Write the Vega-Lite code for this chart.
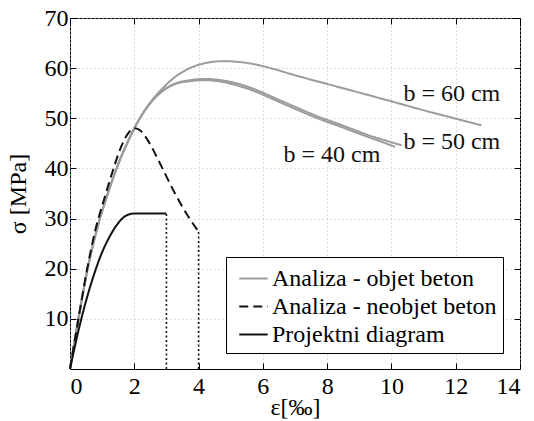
{
  "$schema": "https://vega.github.io/schema/vega-lite/v6.json",
  "width": 450,
  "height": 351,
  "autosize": {"type": "none"},
  "padding": {"left": 70, "top": 18, "right": 14, "bottom": 52},
  "background": "white",
  "config": {
    "font": "Liberation Serif",
    "view": {"stroke": "#000", "strokeWidth": 1},
    "axis": {
      "labelFont": "Liberation Serif",
      "titleFont": "Liberation Serif",
      "labelFontSize": 24,
      "titleFontSize": 24,
      "titleFontWeight": "normal",
      "labelColor": "#000",
      "titleColor": "#000",
      "domain": false,
      "tickColor": "#000",
      "gridColor": "#bdbdbd",
      "gridDash": [1, 3],
      "gridWidth": 1,
      "tickSize": -6,
      "labelPadding": 8
    },
    "legend": {
      "orient": "none",
      "legendX": 156,
      "legendY": 239,
      "direction": "vertical",
      "strokeColor": "#000",
      "fillColor": "#fff",
      "padding": 6,
      "symbolType": "stroke",
      "symbolSize": 810,
      "symbolStrokeWidth": 2,
      "symbolOffset": 6,
      "labelFont": "Liberation Serif",
      "labelFontSize": 24,
      "labelColor": "#000",
      "labelOffset": 3,
      "labelLimit": 400,
      "rowPadding": 0
    }
  },
  "datasets": {
    "curves": [
      {"s": "Analiza - objet beton", "c": "b60", "x": 0, "y": 0},
      {"s": "Analiza - objet beton", "c": "b60", "x": 0.26, "y": 10},
      {"s": "Analiza - objet beton", "c": "b60", "x": 0.55, "y": 20},
      {"s": "Analiza - objet beton", "c": "b60", "x": 0.93, "y": 30},
      {"s": "Analiza - objet beton", "c": "b60", "x": 1.1, "y": 33.5},
      {"s": "Analiza - objet beton", "c": "b60", "x": 1.27, "y": 36.8},
      {"s": "Analiza - objet beton", "c": "b60", "x": 1.45, "y": 40.0},
      {"s": "Analiza - objet beton", "c": "b60", "x": 1.63, "y": 42.9},
      {"s": "Analiza - objet beton", "c": "b60", "x": 1.82, "y": 45.6},
      {"s": "Analiza - objet beton", "c": "b60", "x": 2.0, "y": 48.0},
      {"s": "Analiza - objet beton", "c": "b60", "x": 2.25, "y": 50.8},
      {"s": "Analiza - objet beton", "c": "b60", "x": 2.54, "y": 53.5},
      {"s": "Analiza - objet beton", "c": "b60", "x": 2.9, "y": 56.1},
      {"s": "Analiza - objet beton", "c": "b60", "x": 3.26, "y": 58.2},
      {"s": "Analiza - objet beton", "c": "b60", "x": 3.73, "y": 60.0},
      {"s": "Analiza - objet beton", "c": "b60", "x": 4.2, "y": 61.0},
      {"s": "Analiza - objet beton", "c": "b60", "x": 4.8, "y": 61.4},
      {"s": "Analiza - objet beton", "c": "b60", "x": 5.3, "y": 61.2},
      {"s": "Analiza - objet beton", "c": "b60", "x": 5.8, "y": 60.7},
      {"s": "Analiza - objet beton", "c": "b60", "x": 6.3, "y": 59.9},
      {"s": "Analiza - objet beton", "c": "b60", "x": 6.83, "y": 58.9},
      {"s": "Analiza - objet beton", "c": "b60", "x": 7.5, "y": 57.7},
      {"s": "Analiza - objet beton", "c": "b60", "x": 8.2, "y": 56.5},
      {"s": "Analiza - objet beton", "c": "b60", "x": 9.3, "y": 54.6},
      {"s": "Analiza - objet beton", "c": "b60", "x": 10.1, "y": 53.2},
      {"s": "Analiza - objet beton", "c": "b60", "x": 11.0, "y": 51.6},
      {"s": "Analiza - objet beton", "c": "b60", "x": 11.9, "y": 50.1},
      {"s": "Analiza - objet beton", "c": "b60", "x": 12.8, "y": 48.6},

      {"s": "Analiza - objet beton", "c": "b50", "x": 0, "y": 0},
      {"s": "Analiza - objet beton", "c": "b50", "x": 0.26, "y": 10},
      {"s": "Analiza - objet beton", "c": "b50", "x": 0.55, "y": 20},
      {"s": "Analiza - objet beton", "c": "b50", "x": 0.93, "y": 30},
      {"s": "Analiza - objet beton", "c": "b50", "x": 1.1, "y": 33.5},
      {"s": "Analiza - objet beton", "c": "b50", "x": 1.27, "y": 36.8},
      {"s": "Analiza - objet beton", "c": "b50", "x": 1.45, "y": 40.0},
      {"s": "Analiza - objet beton", "c": "b50", "x": 1.63, "y": 42.9},
      {"s": "Analiza - objet beton", "c": "b50", "x": 1.82, "y": 45.6},
      {"s": "Analiza - objet beton", "c": "b50", "x": 2.0, "y": 48.0},
      {"s": "Analiza - objet beton", "c": "b50", "x": 2.25, "y": 50.8},
      {"s": "Analiza - objet beton", "c": "b50", "x": 2.54, "y": 53.4},
      {"s": "Analiza - objet beton", "c": "b50", "x": 2.9, "y": 55.6},
      {"s": "Analiza - objet beton", "c": "b50", "x": 3.26, "y": 56.9},
      {"s": "Analiza - objet beton", "c": "b50", "x": 3.73, "y": 57.6},
      {"s": "Analiza - objet beton", "c": "b50", "x": 4.2, "y": 57.85},
      {"s": "Analiza - objet beton", "c": "b50", "x": 4.7, "y": 57.6},
      {"s": "Analiza - objet beton", "c": "b50", "x": 5.28, "y": 56.8},
      {"s": "Analiza - objet beton", "c": "b50", "x": 5.7, "y": 55.9},
      {"s": "Analiza - objet beton", "c": "b50", "x": 6.11, "y": 54.8},
      {"s": "Analiza - objet beton", "c": "b50", "x": 6.6, "y": 53.4},
      {"s": "Analiza - objet beton", "c": "b50", "x": 7.14, "y": 51.9},
      {"s": "Analiza - objet beton", "c": "b50", "x": 7.7, "y": 50.4},
      {"s": "Analiza - objet beton", "c": "b50", "x": 8.3, "y": 49.0},
      {"s": "Analiza - objet beton", "c": "b50", "x": 8.8, "y": 47.8},
      {"s": "Analiza - objet beton", "c": "b50", "x": 9.3, "y": 46.6},
      {"s": "Analiza - objet beton", "c": "b50", "x": 9.8, "y": 45.6},
      {"s": "Analiza - objet beton", "c": "b50", "x": 10.32, "y": 44.6},

      {"s": "Analiza - objet beton", "c": "b40", "x": 0, "y": 0},
      {"s": "Analiza - objet beton", "c": "b40", "x": 0.26, "y": 10},
      {"s": "Analiza - objet beton", "c": "b40", "x": 0.55, "y": 20},
      {"s": "Analiza - objet beton", "c": "b40", "x": 0.93, "y": 30},
      {"s": "Analiza - objet beton", "c": "b40", "x": 1.1, "y": 33.5},
      {"s": "Analiza - objet beton", "c": "b40", "x": 1.27, "y": 36.8},
      {"s": "Analiza - objet beton", "c": "b40", "x": 1.45, "y": 40.0},
      {"s": "Analiza - objet beton", "c": "b40", "x": 1.63, "y": 42.9},
      {"s": "Analiza - objet beton", "c": "b40", "x": 1.82, "y": 45.6},
      {"s": "Analiza - objet beton", "c": "b40", "x": 2.0, "y": 48.0},
      {"s": "Analiza - objet beton", "c": "b40", "x": 2.25, "y": 50.8},
      {"s": "Analiza - objet beton", "c": "b40", "x": 2.54, "y": 53.3},
      {"s": "Analiza - objet beton", "c": "b40", "x": 2.9, "y": 55.5},
      {"s": "Analiza - objet beton", "c": "b40", "x": 3.26, "y": 56.8},
      {"s": "Analiza - objet beton", "c": "b40", "x": 3.73, "y": 57.4},
      {"s": "Analiza - objet beton", "c": "b40", "x": 4.2, "y": 57.6},
      {"s": "Analiza - objet beton", "c": "b40", "x": 4.7, "y": 57.3},
      {"s": "Analiza - objet beton", "c": "b40", "x": 5.28, "y": 56.4},
      {"s": "Analiza - objet beton", "c": "b40", "x": 5.7, "y": 55.5},
      {"s": "Analiza - objet beton", "c": "b40", "x": 6.11, "y": 54.4},
      {"s": "Analiza - objet beton", "c": "b40", "x": 6.6, "y": 53.0},
      {"s": "Analiza - objet beton", "c": "b40", "x": 7.14, "y": 51.5},
      {"s": "Analiza - objet beton", "c": "b40", "x": 7.7, "y": 50.0},
      {"s": "Analiza - objet beton", "c": "b40", "x": 8.3, "y": 48.6},
      {"s": "Analiza - objet beton", "c": "b40", "x": 8.8, "y": 47.4},
      {"s": "Analiza - objet beton", "c": "b40", "x": 9.3, "y": 46.2},
      {"s": "Analiza - objet beton", "c": "b40", "x": 9.7, "y": 45.3},
      {"s": "Analiza - objet beton", "c": "b40", "x": 10.11, "y": 44.3},

      {"s": "Analiza - neobjet beton", "c": "neo", "x": 0, "y": 0},
      {"s": "Analiza - neobjet beton", "c": "neo", "x": 0.25, "y": 9.5},
      {"s": "Analiza - neobjet beton", "c": "neo", "x": 0.52, "y": 19.5},
      {"s": "Analiza - neobjet beton", "c": "neo", "x": 0.8, "y": 28.0},
      {"s": "Analiza - neobjet beton", "c": "neo", "x": 1.06, "y": 33.8},
      {"s": "Analiza - neobjet beton", "c": "neo", "x": 1.32, "y": 39.3},
      {"s": "Analiza - neobjet beton", "c": "neo", "x": 1.63, "y": 44.9},
      {"s": "Analiza - neobjet beton", "c": "neo", "x": 1.82, "y": 47.1},
      {"s": "Analiza - neobjet beton", "c": "neo", "x": 2.0, "y": 48.0},
      {"s": "Analiza - neobjet beton", "c": "neo", "x": 2.2, "y": 47.5},
      {"s": "Analiza - neobjet beton", "c": "neo", "x": 2.42, "y": 45.6},
      {"s": "Analiza - neobjet beton", "c": "neo", "x": 2.83, "y": 40.6},
      {"s": "Analiza - neobjet beton", "c": "neo", "x": 3.25, "y": 35.2},
      {"s": "Analiza - neobjet beton", "c": "neo", "x": 3.72, "y": 30.0},
      {"s": "Analiza - neobjet beton", "c": "neo", "x": 4.0, "y": 27.4},

      {"s": "Projektni diagram", "c": "pd", "x": 0, "y": 0},
      {"s": "Projektni diagram", "c": "pd", "x": 0.25, "y": 7.3},
      {"s": "Projektni diagram", "c": "pd", "x": 0.5, "y": 13.6},
      {"s": "Projektni diagram", "c": "pd", "x": 0.75, "y": 18.9},
      {"s": "Projektni diagram", "c": "pd", "x": 1.0, "y": 23.3},
      {"s": "Projektni diagram", "c": "pd", "x": 1.25, "y": 26.6},
      {"s": "Projektni diagram", "c": "pd", "x": 1.5, "y": 29.1},
      {"s": "Projektni diagram", "c": "pd", "x": 1.75, "y": 30.6},
      {"s": "Projektni diagram", "c": "pd", "x": 2.0, "y": 31.0},
      {"s": "Projektni diagram", "c": "pd", "x": 3.0, "y": 31.0}
    ],
    "drops": [
      {"x": 3.0, "y": 0, "y2": 31.0},
      {"x": 4.0, "y": 0, "y2": 27.4}
    ],
    "labels": [
      {"t": "b = 60 cm", "x": 11.88, "y": 54.8},
      {"t": "b = 50 cm", "x": 11.88, "y": 45.2},
      {"t": "b = 40 cm", "x": 8.15, "y": 42.6}
    ]
  },
  "resolve": {"axis": {"x": "independent", "y": "independent"}},
  "layer": [
    {
      "data": {"name": "curves"},
      "mark": {"type": "line", "strokeWidth": 2, "interpolate": "monotone"},
      "encoding": {
        "x": {
          "field": "x", "type": "quantitative",
          "scale": {"domain": [0, 14], "nice": false, "zero": false},
          "axis": {"orient": "bottom", "values": [0, 2, 4, 6, 8, 10, 12, 14], "title": "ε[‰]", "labelPadding": 11, "titlePadding": -3, "grid": true}
        },
        "y": {
          "field": "y", "type": "quantitative",
          "scale": {"domain": [0, 70], "nice": false, "zero": false},
          "axis": {"orient": "left", "values": [10, 20, 30, 40, 50, 60, 70], "title": "σ [MPa]", "titlePadding": 14, "grid": true}
        },
        "color": {
          "field": "s", "type": "nominal",
          "scale": {"domain": ["Analiza - objet beton", "Analiza - neobjet beton", "Projektni diagram"], "range": ["#9c9c9c", "#111111", "#111111"]},
          "legend": {"title": null}
        },
        "strokeDash": {
          "field": "s", "type": "nominal",
          "scale": {"domain": ["Analiza - objet beton", "Analiza - neobjet beton", "Projektni diagram"], "range": [[1, 0], [9, 5], [1, 0]]},
          "legend": {"title": null}
        },
        "detail": {"field": "c"}
      }
    },
    {
      "data": {"name": "drops"},
      "mark": {"type": "rule", "color": "#111", "strokeWidth": 1.6, "strokeDash": [2, 2.5]},
      "encoding": {
        "x": {"field": "x", "type": "quantitative", "axis": {"orient": "top", "values": [0, 2, 4, 6, 8, 10, 12, 14], "labels": false, "title": null, "grid": false}},
        "y": {"field": "y", "type": "quantitative", "axis": {"orient": "right", "values": [10, 20, 30, 40, 50, 60, 70], "labels": false, "title": null, "grid": false}},
        "y2": {"field": "y2"}
      }
    },
    {
      "data": {"name": "labels"},
      "mark": {"type": "text", "font": "Liberation Serif", "fontSize": 24, "color": "#111", "align": "center", "baseline": "middle"},
      "encoding": {
        "x": {"field": "x", "type": "quantitative", "axis": null},
        "y": {"field": "y", "type": "quantitative", "axis": null},
        "text": {"field": "t"}
      }
    }
  ]
}
